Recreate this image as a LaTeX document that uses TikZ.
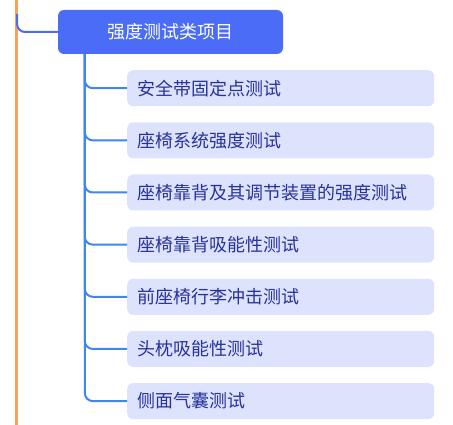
\documentclass[tikz,border=0pt]{standalone}
\usepackage{fontspec}
\newfontfamily\cjk{Noto Sans CJK SC}
\usepackage{xcolor}
\usepackage{tikz}
\usetikzlibrary{positioning}
\definecolor{titleblue}{HTML}{4A6CF7}
\definecolor{itemfill}{HTML}{DDE3FC}
\definecolor{itemtext}{HTML}{27339B}
\definecolor{branchblue}{HTML}{3F86F0}
\definecolor{spineorange}{HTML}{F7A35C}
\tikzstyle{titlenode} = [rectangle, rounded corners=6pt, minimum width=225pt, minimum height=44pt, fill=titleblue, text=white, font=\cjk\fontsize{18}{21}\selectfont]
\tikzstyle{itemnode} = [rectangle, rounded corners=6pt, text width=287pt, minimum height=36pt, inner xsep=10pt, inner ysep=3pt, align=left, fill=itemfill, text=itemtext, font=\cjk\fontsize{18}{21}\selectfont]
\tikzstyle{spine} = [line width=3pt, spineorange]
\tikzstyle{link} = [line width=2pt, titleblue, rounded corners=8pt]
\tikzstyle{branch} = [line width=2pt, branchblue, rounded corners=8pt]

\begin{document}
\begin{tikzpicture}[x=1pt, y=1pt, node distance=15.75pt]

    \useasboundingbox (0,0) rectangle (453,-425);

    \coordinate (spinetop) at (16.5,0);
    \coordinate (spinebot) at (16.5,-425);
    \coordinate (spinejoint) at (17,-14);

    \node (title) [titlenode] at (170.5,-32) {强度测试类项目};
    \coordinate (trunk) at ([xshift=27pt]title.south west);

    \node (belt) [itemnode, anchor=north west] at (127,-70) {安全带固定点测试};
    \node (seat) [itemnode, below=of belt] {座椅系统强度测试};
    \node (back) [itemnode, below=of seat] {座椅靠背及其调节装置的强度测试};
    \node (absorb) [itemnode, below=of back] {座椅靠背吸能性测试};
    \node (luggage) [itemnode, below=of absorb] {前座椅行李冲击测试};
    \node (headrest) [itemnode, below=of luggage] {头枕吸能性测试};
    \node (airbag) [itemnode, below=of headrest] {侧面气囊测试};

    \draw [spine] (spinetop) -- (spinebot);
    \draw [link] (spinejoint) |- (title.west);

    \draw [branch] (trunk) |- (belt.west);
    \draw [branch] (trunk) |- (seat.west);
    \draw [branch] (trunk) |- (back.west);
    \draw [branch] (trunk) |- (absorb.west);
    \draw [branch] (trunk) |- (luggage.west);
    \draw [branch] (trunk) |- (headrest.west);
    \draw [branch] (trunk) |- (airbag.west);

\end{tikzpicture}
\end{document}
